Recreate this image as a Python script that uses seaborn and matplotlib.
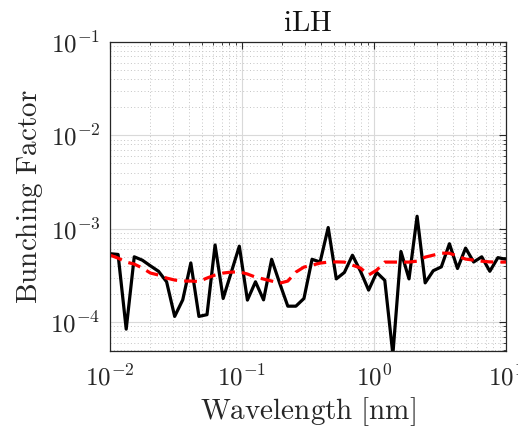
import numpy as np
import pandas as pd
import matplotlib
matplotlib.use("Agg")
import matplotlib.pyplot as plt
from matplotlib.ticker import LogLocator, FuncFormatter, NullFormatter
import seaborn as sns

# wavelength grid [nm] (log spaced)
wavelength = [0.01, 0.01151, 0.01326, 0.01526, 0.01758, 0.02024, 0.0233, 0.02683,
              0.03089, 0.03556, 0.04095, 0.04715, 0.05429, 0.06251, 0.07197, 0.08286,
              0.09541, 0.1099, 0.1265, 0.1456, 0.1677, 0.1931, 0.2223, 0.256,
              0.2947, 0.3393, 0.3907, 0.4498, 0.518, 0.5964, 0.6866, 0.7906,
              0.9103, 1.048, 1.207, 1.39, 1.6, 1.842, 2.121, 2.442,
              2.812, 3.237, 3.728, 4.292, 4.942, 5.69, 6.551, 7.543, 8.685, 10.0]

# bunching factor (black, raw)
bunching = [5.4e-4, 5.3e-4, 8.4e-5, 5.0e-4, 4.6e-4, 4.0e-4, 3.5e-4, 2.7e-4,
            1.15e-4, 1.73e-4, 4.3e-4, 1.15e-4, 1.2e-4, 6.7e-4, 1.79e-4, 3.4e-4,
            6.5e-4, 1.72e-4, 2.7e-4, 1.73e-4, 4.7e-4, 2.6e-4, 1.48e-4, 1.48e-4,
            1.79e-4, 4.7e-4, 4.4e-4, 1.03e-3, 2.9e-4, 3.4e-4, 5.2e-4, 3.5e-4,
            2.2e-4, 3.4e-4, 2.8e-4, 4.5e-5, 5.7e-4, 2.9e-4, 1.36e-3, 2.63e-4,
            3.55e-4, 3.9e-4, 6.9e-4, 3.75e-4, 6.2e-4, 4.4e-4, 5.0e-4, 3.5e-4,
            4.9e-4, 4.7e-4]

# smoothed bunching factor (red dashed)
bunching_smooth = [5.21e-4, 4.84e-4, 4.39e-4, 4.18e-4, 3.79e-4, 3.35e-4, 3.19e-4, 2.96e-4,
                   2.82e-4, 2.75e-4, 2.75e-4, 2.72e-4, 2.96e-4, 3.19e-4, 3.35e-4, 3.43e-4,
                   3.45e-4, 3.27e-4, 3.03e-4, 2.89e-4, 2.75e-4, 2.61e-4, 2.75e-4, 3.43e-4,
                   3.88e-4, 4.07e-4, 4.28e-4, 4.39e-4, 4.41e-4, 4.39e-4, 4.07e-4, 3.79e-4,
                   3.19e-4, 3.6e-4, 4.39e-4, 4.39e-4, 4.39e-4, 4.39e-4, 4.49e-4, 4.96e-4,
                   5.21e-4, 5.47e-4, 5.47e-4, 5.08e-4, 4.73e-4, 4.61e-4, 4.49e-4, 4.41e-4,
                   4.39e-4, 4.39e-4]


def main():
    sns.set_style("white")
    plt.rcParams['mathtext.fontset'] = 'cm'
    plt.rcParams['font.family'] = ['serif']
    plt.rcParams['font.serif'] = ['DejaVu Serif']

    df = pd.DataFrame({'wl': wavelength, 'b': bunching, 'bs': bunching_smooth})

    fig = plt.figure(figsize=(5.18, 4.33), dpi=100)
    ax = fig.add_axes([0.2124, 0.1894, 0.7644, 0.7136])

    sns.lineplot(data=df, x='wl', y='b', ax=ax, color='black', linewidth=2.3)
    sns.lineplot(data=df, x='wl', y='bs', ax=ax, color='red', linewidth=2.3,
                 linestyle=(0, (4.0, 2.2)))

    ax.set_xscale('log')
    ax.set_yscale('log')
    ax.set_xlim(1e-2, 1e1)
    ax.set_ylim(4.9e-5, 1e-1)

    fmt = FuncFormatter(lambda v, p: r'$10^{%d}$' % int(round(np.log10(v))))
    for axis in (ax.xaxis, ax.yaxis):
        axis.set_major_locator(LogLocator(base=10, numticks=10))
        axis.set_minor_locator(LogLocator(base=10, subs=np.arange(2, 10), numticks=20))
        axis.set_major_formatter(fmt)
        axis.set_minor_formatter(NullFormatter())

    ax.grid(True, which='major', color='#d9d9d9', linewidth=0.8, linestyle='-')
    ax.grid(True, which='minor', color='#c4c4c4', linewidth=0.7, linestyle=(0, (1, 2.5)))
    ax.set_axisbelow(True)

    ax.tick_params(which='both', direction='in', top=True, right=True,
                   colors='#262626', labelsize=18)
    ax.tick_params(which='major', length=5, width=0.8)
    ax.tick_params(which='minor', length=2.5, width=0.6)
    ax.tick_params(axis='x', which='major', pad=10)
    ax.tick_params(axis='y', which='major', pad=7)
    for s in ax.spines.values():
        s.set_color('#262626')
        s.set_linewidth(0.9)

    ax.set_xlabel(r'$\mathrm{Wavelength\ [nm]}$', fontsize=21, color='#262626', labelpad=3)
    ax.set_ylabel(r'$\mathrm{Bunching\ Factor}$', fontsize=21, color='#262626', labelpad=4)
    ax.set_title(r'$\mathrm{iLH}$', fontsize=21, color='#111111', pad=8)

    fig.savefig('out.png', dpi=100)


if __name__ == "__main__":
    main()
